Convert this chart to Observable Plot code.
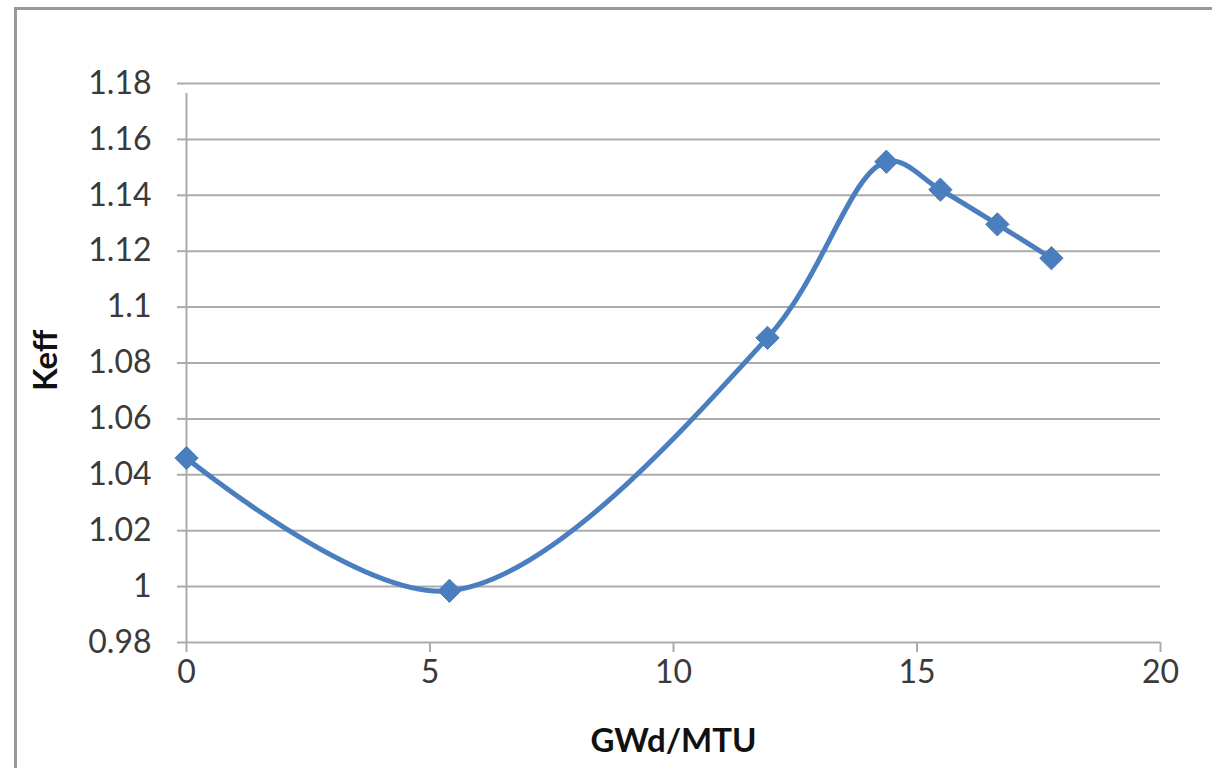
<!DOCTYPE html>
<html>
<head>
<meta charset="utf-8">
<script src="https://cdn.jsdelivr.net/npm/d3@7"></script>
<script src="https://cdn.jsdelivr.net/npm/@observablehq/plot@0.6"></script>
<style>
  html, body { margin: 0; padding: 0; background: #fff; }
  #wrap { position: relative; width: 1212px; height: 768px; overflow: hidden; }
  #frame { position: absolute; left: 14px; top: 7px; width: 1210px; height: 780px; border: 3px solid #9a9a9a; box-sizing: border-box; }
  #chart { position: absolute; left: 0; top: 0; }
</style>
</head>
<body>
<div id="wrap">
  <div id="frame"></div>
  <div id="chart"></div>
</div>
<script>
const burnup = [0, 5.4, 11.93, 14.37, 15.48, 16.65, 17.76];
const keff = [1.046, 0.9985, 1.089, 1.152, 1.142, 1.1296, 1.1175];
const xTicks = [0, 5, 10, 15, 20];
const yTicks = [0.98, 1.00, 1.02, 1.04, 1.06, 1.08, 1.10, 1.12, 1.14, 1.16, 1.18];
const yTickLabels = ["0.98", "1", "1.02", "1.04", "1.06", "1.08", "1.1", "1.12", "1.14", "1.16", "1.18"];
const xLabel = "GWd/MTU";
const yLabel = "Keff";

const data = burnup.map((b, i) => ({ b, k: keff[i] }));
const gridColor = "#ababab";
const blue = "#4a7ebf";

const chart = Plot.plot({
  width: 1212,
  height: 768,
  marginLeft: 186,
  marginRight: 52,
  marginTop: 83,
  marginBottom: 126,
  style: { fontFamily: "Lato, 'Liberation Sans', sans-serif", background: "transparent" },
  x: { domain: [0, 20] },
  y: { domain: [0.98, 1.18] },
  marks: [
    Plot.gridY(yTicks, { stroke: gridColor, strokeOpacity: 1, strokeWidth: 2 }),
    Plot.axisY(yTicks, {
      tickSize: 9, tickPadding: 26, stroke: gridColor, strokeWidth: 2,
      tickFormat: (d) => yTickLabels[yTicks.indexOf(d)],
      fontSize: 32, fill: "#3a3a3a", label: null
    }),
    Plot.axisX(xTicks, {
      tickSize: 10, tickPadding: 8, stroke: gridColor, strokeWidth: 2,
      fontSize: 32, fill: "#3a3a3a", label: null
    }),
    Plot.ruleX([0], { y1: 0.98, y2: 1.18, stroke: gridColor, strokeWidth: 2, insetBottom: -10 }),
    Plot.line(data, { x: "b", y: "k", curve: "catmull-rom", stroke: blue, strokeWidth: 5 }),
    Plot.dot(data, { x: "b", y: "k", symbol: "diamond2", r: 10.5, fill: blue, stroke: blue, strokeWidth: 1 }),
    Plot.text([yLabel], { frameAnchor: "left", dx: -140, dy: 28, rotate: -90, fontSize: 33, fontWeight: "bold", fill: "#111" }),
    Plot.text([xLabel], { frameAnchor: "bottom", dy: 109, fontSize: 33, fontWeight: "bold", fill: "#111" })
  ]
});
document.getElementById("chart").appendChild(chart);
</script>
</body>
</html>
